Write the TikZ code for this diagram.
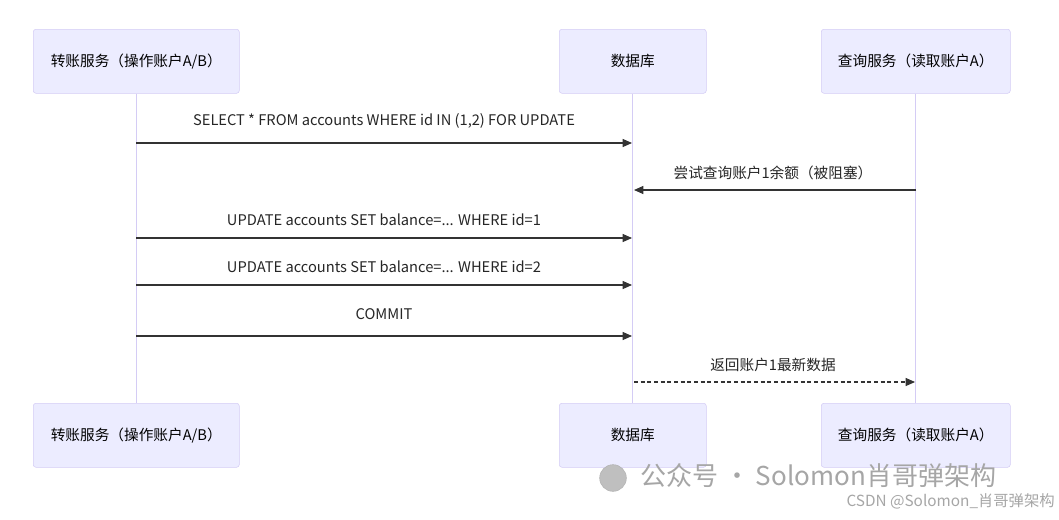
\documentclass[tikz,border=0pt]{standalone}
\usepackage{fontspec}
\setmainfont{Noto Sans CJK SC}
\usetikzlibrary{arrows.meta}
\definecolor{boxfill}{HTML}{ECECFF}
\definecolor{boxline}{HTML}{D4CCF5}
\definecolor{life}{HTML}{D4CCF5}
\definecolor{msg}{HTML}{333333}
\tikzset{
  actor/.style={draw=boxline,fill=boxfill,rounded corners=2pt,anchor=north west,text=black},
  atext/.style={font=\fontsize{11pt}{13pt}\selectfont},
  lifeline/.style={draw=life,line width=0.9pt},
  msgline/.style={draw=msg,line width=0.8pt,-{Triangle[length=7pt,width=6pt]}},
  lbl/.style={font=\fontsize{11pt}{13pt}\selectfont,text=black!85},
  wm/.style={text=black!35}
}
\begin{document}
\begin{tikzpicture}[x=0.75pt,y=-0.75pt]
\useasboundingbox[fill=white] (0,0) rectangle (1059,519);
\node[actor,minimum width=206*0.75pt,minimum height=64*0.75pt] (a1) at (33,29) {};
\node[atext] at (a1.center) {转账服务（操作账户A/B）};
\node[actor,minimum width=147*0.75pt,minimum height=64*0.75pt] (b1) at (559,29) {};
\node[atext] at (b1.center) {数据库};
\node[actor,minimum width=189*0.75pt,minimum height=64*0.75pt] (c1) at (821,29) {};
\node[atext] at (c1.center) {查询服务（读取账户A）};
\node[actor,minimum width=206*0.75pt,minimum height=64*0.75pt] (a2) at (33,403) {};
\node[atext] at (a2.center) {转账服务（操作账户A/B）};
\node[actor,minimum width=147*0.75pt,minimum height=64*0.75pt] (b2) at (559,403) {};
\node[atext] at (b2.center) {数据库};
\node[actor,minimum width=189*0.75pt,minimum height=64*0.75pt] (c2) at (821,403) {};
\node[atext] at (c2.center) {查询服务（读取账户A）};
\draw[lifeline] (a1.south) -- (a2.north);
\draw[lifeline] (b1.south) -- (b2.north);
\draw[lifeline] (c1.south) -- (c2.north);
\coordinate (m1s) at (136,143); \coordinate (m1e) at (632,143);
\draw[msgline] (m1s) -- (m1e);
\node[lbl] (l1) at (384,121) {SELECT * FROM accounts WHERE id IN (1,2) FOR UPDATE};
\coordinate (m2s) at (916,190); \coordinate (m2e) at (634,190);
\draw[msgline] (m2s) -- (m2e);
\node[lbl] (l2) at (773,173) {尝试查询账户1余额（被阻塞）};
\coordinate (m3s) at (136,238); \coordinate (m3e) at (632,238);
\draw[msgline] (m3s) -- (m3e);
\node[lbl] (l3) at (384,220) {UPDATE accounts SET balance=... WHERE id=1};
\coordinate (m4s) at (136,285); \coordinate (m4e) at (632,285);
\draw[msgline] (m4s) -- (m4e);
\node[lbl] (l4) at (384,267) {UPDATE accounts SET balance=... WHERE id=2};
\coordinate (m5s) at (136,336); \coordinate (m5e) at (632,336);
\draw[msgline] (m5s) -- (m5e);
\node[lbl] (l5) at (384,314) {COMMIT};
\coordinate (m6s) at (634,382); \coordinate (m6e) at (915,382);
\draw[msgline,dash pattern=on 3pt off 2pt] (m6s) -- (m6e);
\node[lbl] (l6) at (773,365) {返回账户1最新数据};
\node[wm,font=\fontsize{19.5pt}{22pt}\selectfont,anchor=west,inner sep=0pt] (w1) at (640,476) {公众号 · Solomon肖哥弹架构};
\node[wm,draw=black!30,fill=black!25,circle,inner sep=0pt,minimum size=20pt] (w0) at (613,478) {};
\node[wm,font=\fontsize{11.5pt}{13pt}\selectfont,anchor=east,inner sep=0pt] (w2) at (1055,501) {CSDN @Solomon\_肖哥弹架构};
\end{tikzpicture}
\end{document}
